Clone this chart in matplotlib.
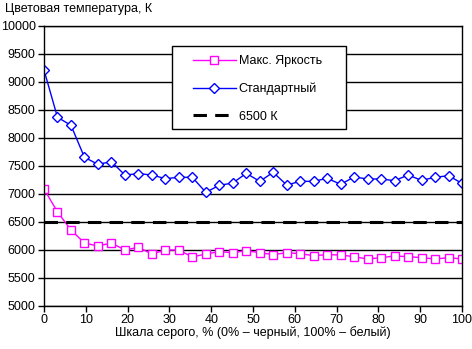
import numpy as np
import matplotlib
matplotlib.use("Agg")
import matplotlib.pyplot as plt
from matplotlib.patches import Rectangle

plt.rcParams['font.family'] = ['Liberation Sans', 'DejaVu Sans']

# gray level, % (32 steps)
gray = np.linspace(0, 100, 32)

max_bright = [7090, 6680, 6357, 6125, 6071, 6125, 6000, 6048, 5929, 6000, 6000,
              5875, 5929, 5970, 5952, 5988, 5952, 5917, 5952, 5934, 5899, 5917,
              5911, 5881, 5839, 5863, 5893, 5881, 5863, 5839, 5863, 5839]
standard = [9214, 8370, 8227, 7655, 7530, 7577, 7339, 7363, 7340, 7274, 7298,
            7298, 7030, 7155, 7196, 7369, 7226, 7387, 7160, 7226, 7226, 7280,
            7173, 7304, 7268, 7268, 7238, 7339, 7244, 7298, 7327, 7190]
ref_6500 = [6500] * len(gray)

labels = ["Макс. Яркость", "Стандартный", "6500 К"]

W, H = 472, 349
fig = plt.figure(figsize=(W / 100, H / 100), dpi=100)
ax = fig.add_axes([44 / W, 1 - 306 / H, 418 / W, 280 / H])

ax.plot(gray, max_bright, color="#FF00FF", lw=1, marker="s", ms=5.5,
        mfc="white", mec="#FF00FF", mew=1, label=labels[0])
ax.plot(gray, standard, color="#0000FF", lw=1, marker="D", ms=5.2,
        mfc="white", mec="#0000FF", mew=1, label=labels[1])
ax.plot(gray, ref_6500, color="black", lw=2.2, dashes=(4.4, 2.7), label=labels[2])

ax.set_xlim(0, 100)
ax.set_ylim(5000, 10000)
ax.set_xticks(np.arange(0, 101, 10))
ax.set_yticks(np.arange(5000, 10001, 500))
ax.grid(axis="y", color="black", lw=1)
ax.set_axisbelow(True)
for s in ax.spines.values():
    s.set_linewidth(1)
ax.tick_params(labelsize=9, length=4, width=1, direction="out", pad=2)

fig.text(5 / W, 1 - 9 / H, "Цветовая температура, К", fontsize=9, va="center", ha="left")
fig.text(253 / W, 1 - 333 / H, "Шкала серого, % (0% – черный, 100% – белый)",
         fontsize=9, va="center", ha="center")

# legend box
fig.patches.append(Rectangle((172 / W, 1 - 129 / H), 174 / W, 83 / H,
                             transform=fig.transFigure, facecolor="white",
                             edgecolor="black", lw=1, zorder=5))
leg = fig.legend(*ax.get_legend_handles_labels(), loc="upper left",
                 bbox_to_anchor=(193 / W, 1 - 55 / H), frameon=False, fontsize=9,
                 borderpad=0, labelspacing=1.25, handlelength=3.4, handletextpad=0.25,
                 borderaxespad=0)
leg.set_zorder(6)

fig.savefig("out.png", dpi=100)
